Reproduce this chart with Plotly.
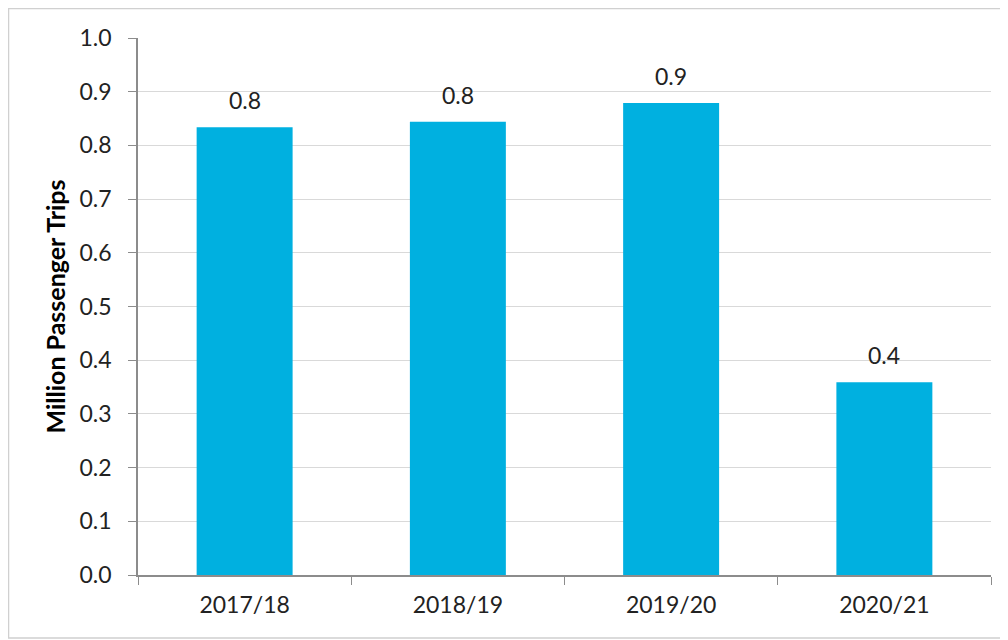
import plotly.graph_objects as go

categories = ["2017/18", "2018/19", "2019/20", "2020/21"]
values = [0.834, 0.844, 0.879, 0.359]
labels = ["0.8", "0.8", "0.9", "0.4"]
y_ticks = [0.0, 0.1, 0.2, 0.3, 0.4, 0.5, 0.6, 0.7, 0.8, 0.9, 1.0]
y_tick_text = ["0.0", "0.1", "0.2", "0.3", "0.4", "0.5", "0.6", "0.7", "0.8", "0.9", "1.0"]

# page body has an 8px margin, so the figure starts at (8, 8)
W, H = 1000, 632
L, R, T, B = 130, 17, 30, 65
pw, ph = W - L - R, H - T - B

def px(x):
    return (x - L) / pw

def py(y):
    return (H - B - y) / ph

font = "Lato, 'Open Sans', sans-serif"

fig = go.Figure(go.Bar(
    x=categories, y=values,
    marker=dict(color="#00B0E0", line=dict(width=0)),
    width=0.45,
))

for c, v, t in zip(categories, values, labels):
    fig.add_annotation(x=c, y=v, text=t, showarrow=False, yanchor="middle",
                       yshift=27, font=dict(size=23, family=font, color="#222222"))

fig.update_layout(
    width=W, height=H, autosize=False,
    margin=dict(l=L, r=R, t=T, b=B),
    paper_bgcolor="white", plot_bgcolor="white",
    font=dict(family=font, size=23, color="#222222"),
    showlegend=False,
    xaxis=dict(
        type="category", showline=True, linecolor="#8c8c8c", linewidth=1.5,
        ticks="outside", tickson="boundaries", ticklen=8, tickcolor="#8c8c8c",
        ticklabelstandoff=9,
        tickfont=dict(size=23, family=font, color="#222222"), showgrid=False,
    ),
    yaxis=dict(
        range=[0, 1.0], tickvals=y_ticks, ticktext=y_tick_text,
        showline=True, linecolor="#8c8c8c", linewidth=1.5,
        ticks="outside", ticklen=8, tickcolor="#8c8c8c",
        ticklabelstandoff=12,
        showgrid=True, gridcolor="#d9d9d9", gridwidth=1,
        tickfont=dict(size=23, family=font, color="#222222"),
        title=dict(text="<b>Million Passenger Trips</b>", standoff=7,
                   font=dict(size=25, family=font, color="#000000")),
        zeroline=False,
    ),
    shapes=[dict(type="rect", xref="paper", yref="paper",
                 x0=px(0.5), x1=px(998), y0=py(630), y1=py(0.5),
                 line=dict(color="#d0d0d0", width=1.5), layer="below")],
)

fig.write_html("out.html")
